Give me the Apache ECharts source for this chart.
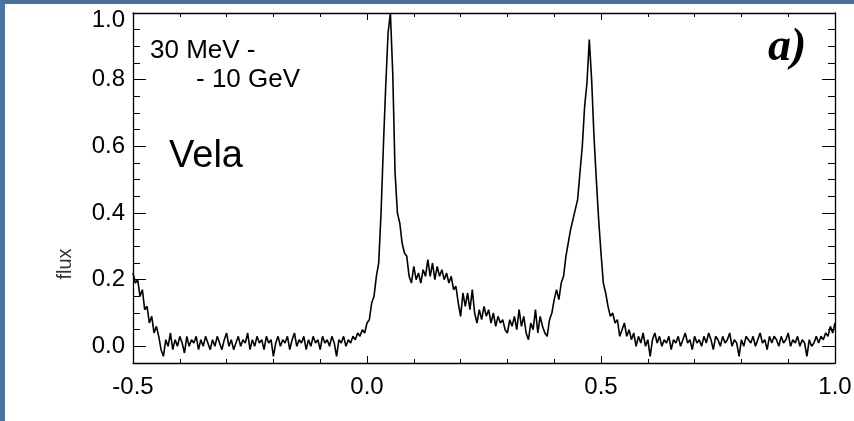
<!DOCTYPE html>
<html>
<head>
<meta charset="utf-8">
<script src="https://cdn.jsdelivr.net/npm/echarts@6/dist/echarts.min.js"></script>
<style>
html,body{margin:0;padding:0;background:#fff;}
#chart{width:854px;height:421px;}
</style>
</head>
<body>
<div id="chart"></div>
<script>
// ---- data ----
const phaseStart = -0.5;   // first bin phase
const phaseStep = 0.005;   // bin width
const flux = [
  // -0.500 .. -0.450
  0.22,0.19,0.20,0.15,0.17,0.11,0.12,0.07,0.09,0.04,0.06,
  // -0.445 .. -0.030 (off-pulse)
  0.03,-0.01,-0.03,0.02,0.00,0.04,-0.01,0.02,0.00,0.03,
  0.01,-0.02,0.03,0.00,0.02,0.01,0.03,-0.01,0.02,0.00,
  0.03,0.01,-0.01,0.02,0.00,0.03,0.01,-0.01,0.02,0.04,
  0.00,0.02,-0.01,0.01,0.03,0.00,0.02,0.01,0.04,-0.01,
  0.02,0.00,0.03,0.01,0.02,-0.01,0.03,0.01,0.02,-0.03,
  0.01,0.03,0.00,0.02,0.01,0.03,-0.01,0.02,0.04,0.00,
  0.02,0.01,0.03,-0.01,0.02,0.00,0.03,0.01,0.02,-0.01,
  0.03,0.01,0.02,0.00,0.03,0.01,-0.03,0.02,0.01,0.03,
  0.00,0.02,0.01,0.03,
  // -0.025 .. 0.560 (first peak, bridge, second peak)
  0.02,0.04,0.03,0.05,0.04,0.07,
  0.08,0.13,0.15,0.21,0.25,0.40,0.60,0.78,0.94,1.00,
  0.82,0.52,0.40,0.37,0.31,0.28,0.27,0.21,0.19,0.24,
  0.20,0.22,0.19,0.23,0.21,0.26,0.21,0.25,0.20,0.24,
  0.21,0.23,0.20,0.22,0.19,0.21,0.17,0.18,0.13,0.09,
  0.16,0.12,0.16,0.11,0.17,0.10,0.07,0.11,0.08,0.12,
  0.09,0.11,0.07,0.10,0.06,0.09,0.07,0.08,0.05,0.04,
  0.08,0.06,0.09,0.05,0.11,0.06,0.09,0.04,0.02,0.07,
  0.05,0.11,0.04,0.09,0.06,0.04,0.03,0.08,0.10,0.14,
  0.17,0.14,0.19,0.21,0.27,0.31,0.35,0.38,0.41,0.44,
  0.52,0.60,0.72,0.79,0.92,0.80,0.63,0.50,0.38,0.28,
  0.19,0.16,0.12,0.09,0.10,0.07,0.08,0.03,0.05,0.07,
  0.03,0.05,
  // 0.565 .. 0.980 (off-pulse)
  0.02,0.04,0.00,0.03,0.01,0.04,0.00,0.02,-0.03,0.02,
  0.04,0.01,0.03,0.00,0.02,0.01,0.03,-0.01,0.02,0.01,
  0.03,0.00,0.02,0.04,0.01,0.02,-0.01,0.03,0.01,0.02,
  0.00,0.03,0.01,0.04,0.02,-0.01,0.03,0.02,0.00,0.03,
  0.01,0.02,0.04,0.00,0.02,0.01,-0.03,0.02,0.00,0.03,
  0.02,0.01,0.03,0.00,0.02,0.04,0.01,0.02,-0.01,0.03,
  0.01,0.03,0.02,0.00,0.03,0.01,0.02,0.04,0.00,0.02,
  0.01,0.03,0.00,0.02,0.01,-0.03,0.02,0.00,0.01,0.03,
  0.01,0.03,0.02,0.04,
  // 0.985 .. 1.000
  0.03,0.06,0.04,0.07
];
const xTickLabels = ['-0.5','0.0','0.5','1.0'];
const yTickLabels = ['0.0','0.2','0.4','0.6','0.8','1.0'];
const yAxisName = 'flux';
const noteLine1 = '30 MeV -';
const noteLine2 = '- 10 GeV';
const sourceName = 'Vela';
const panelTag = 'a)';

// ---- build ----
const seriesData = flux.map((v, i) => [phaseStart + i * phaseStep, v]);
const xMin = parseFloat(xTickLabels[0]);
const xMax = parseFloat(xTickLabels[xTickLabels.length - 1]);
const yTop = parseFloat(yTickLabels[yTickLabels.length - 1]);
const yBottom = -0.05;

const plotLeft = 133, plotRight = 835, plotTop = 13, plotBottom = 363;
const W = 854, H = 421;
const zeroPx = plotTop + (plotBottom - plotTop) * (yTop / (yTop - yBottom));

const black = '#000';
const fam = '"Liberation Sans", Arial, sans-serif';
const lab = {color: black, fontFamily: fam, fontSize: 24};
const line = (show) => ({show: show, onZero: false, lineStyle: {color: black, width: 1.3}});
const yLabelFmt = v => {
  const s = v.toFixed(1);
  return Math.abs(v - yTop) < 1e-9 ? '{top|' + s + '}' : s;
};

const chart = echarts.init(document.getElementById('chart'), null, {renderer: 'canvas'});
chart.setOption({
  animation: false,
  backgroundColor: '#fff',
  grid: [
    {left: plotLeft, right: W - plotRight, top: plotTop, bottom: H - plotBottom, containLabel: false, outerBoundsMode: 'none'},
    {left: plotLeft, right: W - plotRight, top: plotTop, bottom: H - zeroPx, containLabel: false, outerBoundsMode: 'none'}
  ],
  xAxis: [
    {gridIndex: 0, type: 'value', position: 'bottom', min: xMin, max: xMax, interval: 0.5,
     axisLine: line(true),
     axisTick: {show: true, inside: true, length: 7, lineStyle: {color: black, width: 1}},
     minorTick: {show: true, splitNumber: 5, length: 4, lineStyle: {color: black, width: 1}},
     axisLabel: Object.assign({show: true, margin: 12, formatter: v => v.toFixed(1)}, lab),
     splitLine: {show: false}},
    {gridIndex: 0, type: 'value', position: 'top', min: xMin, max: xMax, interval: 0.5,
     axisLine: line(true),
     axisTick: {show: true, inside: true, length: 7, lineStyle: {color: black, width: 1}},
     minorTick: {show: true, splitNumber: 5, length: 4, lineStyle: {color: black, width: 1}},
     axisLabel: {show: false}, splitLine: {show: false}},
    {gridIndex: 1, type: 'value', position: 'bottom', min: xMin, max: xMax, interval: 0.5,
     axisLine: line(false), axisTick: {show: false}, axisLabel: {show: false}, splitLine: {show: false}}
  ],
  yAxis: [
    {gridIndex: 0, type: 'value', position: 'left', min: yBottom, max: yTop,
     axisLine: line(true),
     axisTick: {show: false}, axisLabel: {show: false}, splitLine: {show: false}},
    {gridIndex: 0, type: 'value', position: 'right', min: yBottom, max: yTop,
     axisLine: line(true),
     axisTick: {show: false}, axisLabel: {show: false}, splitLine: {show: false}},
    {gridIndex: 1, type: 'value', position: 'left', min: 0, max: yTop, interval: 0.2,
     axisLine: line(false),
     axisTick: {show: true, inside: true, length: 13, lineStyle: {color: black, width: 1}},
     minorTick: {show: true, splitNumber: 4, length: 7, lineStyle: {color: black, width: 1}},
     axisLabel: Object.assign({show: true, margin: 8, formatter: yLabelFmt,
       rich: {top: {fontFamily: fam, fontSize: 24, color: black, padding: [14, 0, 0, 0]}}}, lab),
     splitLine: {show: false}},
    {gridIndex: 1, type: 'value', position: 'right', min: 0, max: yTop, interval: 0.2,
     axisLine: line(false),
     axisTick: {show: true, inside: true, length: 13, lineStyle: {color: black, width: 1}},
     minorTick: {show: true, splitNumber: 4, length: 7, lineStyle: {color: black, width: 1}},
     axisLabel: {show: false}, splitLine: {show: false}}
  ],
  series: [{
    type: 'line', xAxisIndex: 0, yAxisIndex: 0, data: seriesData,
    showSymbol: false, symbol: 'none', clip: true,
    lineStyle: {color: black, width: 1.6}, z: 5
  }],
  graphic: [
    {type: 'rect', shape: {x: 0, y: 0, width: W, height: 4}, style: {fill: '#4a6d97'}, z: 100},
    {type: 'rect', shape: {x: 0, y: 0, width: 5, height: H}, style: {fill: '#4d72a0'}, z: 100},
    {type: 'text', x: 65, y: 264, rotation: Math.PI / 2,
     style: {text: yAxisName, fill: '#333', font: '20px ' + fam, textAlign: 'center', textVerticalAlign: 'middle'}},
    {type: 'text', x: 150, y: 51,
     style: {text: noteLine1, fill: black, font: '26px ' + fam, textAlign: 'left', textVerticalAlign: 'middle'}},
    {type: 'text', x: 196, y: 80,
     style: {text: noteLine2, fill: black, font: '26px ' + fam, textAlign: 'left', textVerticalAlign: 'middle'}},
    {type: 'text', x: 169, y: 157,
     style: {text: sourceName, fill: black, font: '38px ' + fam, textAlign: 'left', textVerticalAlign: 'middle'}},
    {type: 'text', x: 768, y: 48,
     style: {text: panelTag, fill: black, font: 'italic bold 46px "Liberation Serif", "Times New Roman", serif', textAlign: 'left', textVerticalAlign: 'middle'}}
  ]
});
</script>
</body>
</html>
